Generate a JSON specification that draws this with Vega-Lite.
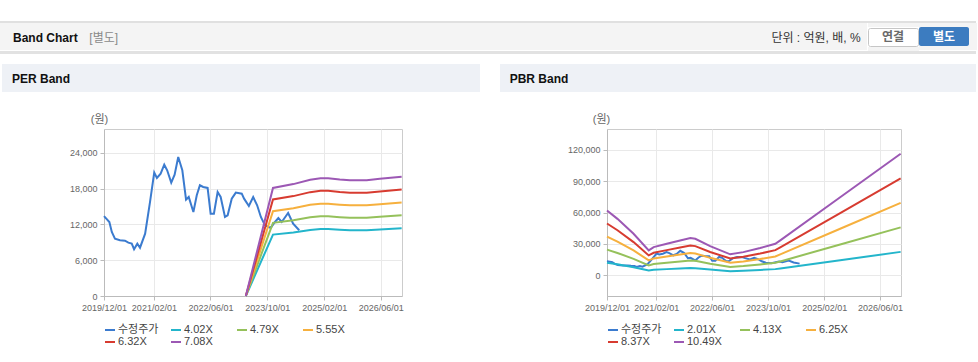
{
 "$schema": "https://vega.github.io/schema/vega-lite/v6.json",
 "padding": {"left": 0, "top": 21, "right": 0, "bottom": 0},
 "background": "#ffffff",
 "spacing": 0,
 "config": {
  "view": {"stroke": null},
  "concat": {"spacing": 0},
  "font": "Liberation Sans, Noto Sans CJK KR",
  "axis": {"labelFont": "Liberation Sans", "labelFontSize": 9, "labelColor": "#666666", "domainColor": "#bbbbbb", "tickColor": "#bbbbbb", "gridColor": "#e9e9e9", "tickSize": 4, "titleFont": "Liberation Sans, Noto Sans CJK KR"},
  "legend": {"labelFont": "Liberation Sans, Noto Sans CJK KR"}
 },
 "datasets": {
  "price": [
   {"date":"2019-12-01","series":"수정주가","value":13400},{"date":"2020-01-16","series":"수정주가","value":12400},{"date":"2020-02-06","series":"수정주가","value":10730},{"date":"2020-03-04","series":"수정주가","value":9620},{"date":"2020-04-16","series":"수정주가","value":9340},{"date":"2020-05-29","series":"수정주가","value":9280},{"date":"2020-06-27","series":"수정주가","value":8950},{"date":"2020-07-26","series":"수정주가","value":8780},{"date":"2020-08-15","series":"수정주가","value":7840},{"date":"2020-09-12","series":"수정주가","value":8780},{"date":"2020-10-05","series":"수정주가","value":8100},{"date":"2020-11-18","series":"수정주가","value":10450},{"date":"2020-12-30","series":"수정주가","value":15770},{"date":"2021-02-04","series":"수정주가","value":20690},{"date":"2021-02-27","series":"수정주가","value":19790},{"date":"2021-03-31","series":"수정주가","value":20510},{"date":"2021-05-01","series":"수정주가","value":22010},{"date":"2021-05-26","series":"수정주가","value":21080},{"date":"2021-06-30","series":"수정주가","value":19000},{"date":"2021-07-29","series":"수정주가","value":20340},{"date":"2021-08-29","series":"수정주가","value":23310},{"date":"2021-10-03","series":"수정주가","value":21080},{"date":"2021-11-04","series":"수정주가","value":16150},{"date":"2021-11-27","series":"수정주가","value":16600},{"date":"2022-01-06","series":"수정주가","value":14080},{"date":"2022-02-04","series":"수정주가","value":16890},{"date":"2022-03-03","series":"수정주가","value":18560},{"date":"2022-03-31","series":"수정주가","value":18280},{"date":"2022-05-08","series":"수정주가","value":18120},{"date":"2022-06-03","series":"수정주가","value":13800},{"date":"2022-07-01","series":"수정주가","value":13800},{"date":"2022-08-02","series":"수정주가","value":17440},{"date":"2022-08-28","series":"수정주가","value":16600},{"date":"2022-10-04","series":"수정주가","value":13250},{"date":"2022-10-27","series":"수정주가","value":13530},{"date":"2022-12-01","series":"수정주가","value":16320},{"date":"2023-01-05","series":"수정주가","value":17330},{"date":"2023-02-25","series":"수정주가","value":17160},{"date":"2023-03-17","series":"수정주가","value":16320},{"date":"2023-04-27","series":"수정주가","value":15100},{"date":"2023-06-03","series":"수정주가","value":16600},{"date":"2023-07-07","series":"수정주가","value":15210},{"date":"2023-08-08","series":"수정주가","value":13250},{"date":"2023-09-12","series":"수정주가","value":11850},{"date":"2023-10-31","series":"수정주가","value":11410},{"date":"2023-12-07","series":"수정주가","value":12410},{"date":"2024-01-05","series":"수정주가","value":13080},{"date":"2024-02-03","series":"수정주가","value":12410},{"date":"2024-03-29","series":"수정주가","value":13920},{"date":"2024-05-11","series":"수정주가","value":12130},{"date":"2024-07-02","series":"수정주가","value":11020}
  ],
  "perBand": [
   {"date":"2023-04-01","series":"4.02X","value":0},{"date":"2023-04-01","series":"4.79X","value":0},{"date":"2023-04-01","series":"5.55X","value":0},{"date":"2023-04-01","series":"6.32X","value":0},{"date":"2023-04-01","series":"7.08X","value":0},
   {"date":"2023-11-20","series":"4.02X","value":10291},{"date":"2023-11-20","series":"4.79X","value":12262},{"date":"2023-11-20","series":"5.55X","value":14208},{"date":"2023-11-20","series":"6.32X","value":16179},{"date":"2023-11-20","series":"7.08X","value":18125},
   {"date":"2024-05-13","series":"4.02X","value":10653},{"date":"2024-05-13","series":"4.79X","value":12694},{"date":"2024-05-13","series":"5.55X","value":14708},{"date":"2024-05-13","series":"6.32X","value":16748},{"date":"2024-05-13","series":"7.08X","value":18762},
   {"date":"2024-10-04","series":"4.02X","value":11075},{"date":"2024-10-04","series":"4.79X","value":13196},{"date":"2024-10-04","series":"5.55X","value":15290},{"date":"2024-10-04","series":"6.32X","value":17412},{"date":"2024-10-04","series":"7.08X","value":19505},
   {"date":"2025-01-01","series":"4.02X","value":11216},{"date":"2025-01-01","series":"4.79X","value":13364},{"date":"2025-01-01","series":"5.55X","value":15485},{"date":"2025-01-01","series":"6.32X","value":17633},{"date":"2025-01-01","series":"7.08X","value":19753},
   {"date":"2025-03-07","series":"4.02X","value":11216},{"date":"2025-03-07","series":"4.79X","value":13364},{"date":"2025-03-07","series":"5.55X","value":15485},{"date":"2025-03-07","series":"6.32X","value":17633},{"date":"2025-03-07","series":"7.08X","value":19753},
   {"date":"2025-06-15","series":"4.02X","value":11095},{"date":"2025-06-15","series":"4.79X","value":13220},{"date":"2025-06-15","series":"5.55X","value":15318},{"date":"2025-06-15","series":"6.32X","value":17443},{"date":"2025-06-15","series":"7.08X","value":19541},
   {"date":"2025-09-10","series":"4.02X","value":11015},{"date":"2025-09-10","series":"4.79X","value":13125},{"date":"2025-09-10","series":"5.55X","value":15207},{"date":"2025-09-10","series":"6.32X","value":17317},{"date":"2025-09-10","series":"7.08X","value":19399},
   {"date":"2026-02-01","series":"4.02X","value":11015},{"date":"2026-02-01","series":"4.79X","value":13125},{"date":"2026-02-01","series":"5.55X","value":15207},{"date":"2026-02-01","series":"6.32X","value":17317},{"date":"2026-02-01","series":"7.08X","value":19399},
   {"date":"2026-05-25","series":"4.02X","value":11156},{"date":"2026-05-25","series":"4.79X","value":13292},{"date":"2026-05-25","series":"5.55X","value":15401},{"date":"2026-05-25","series":"6.32X","value":17538},{"date":"2026-05-25","series":"7.08X","value":19647},
   {"date":"2026-11-28","series":"4.02X","value":11357},{"date":"2026-11-28","series":"4.79X","value":13532},{"date":"2026-11-28","series":"5.55X","value":15679},{"date":"2026-11-28","series":"6.32X","value":17854},{"date":"2026-11-28","series":"7.08X","value":20001}
  ],
  "pbrBand": [
   {"date":"2019-12-01","series":"2.01X","value":11879},{"date":"2019-12-01","series":"4.13X","value":24408},{"date":"2019-12-01","series":"6.25X","value":36938},{"date":"2019-12-01","series":"8.37X","value":49467},{"date":"2019-12-01","series":"10.49X","value":61996},
   {"date":"2020-03-01","series":"2.01X","value":10331},{"date":"2020-03-01","series":"4.13X","value":21228},{"date":"2020-03-01","series":"6.25X","value":32125},{"date":"2020-03-01","series":"8.37X","value":43022},{"date":"2020-03-01","series":"10.49X","value":53919},
   {"date":"2020-07-19","series":"2.01X","value":7598},{"date":"2020-07-19","series":"4.13X","value":15611},{"date":"2020-07-19","series":"6.25X","value":23625},{"date":"2020-07-19","series":"8.37X","value":31639},{"date":"2020-07-19","series":"10.49X","value":39652},
   {"date":"2020-11-28","series":"2.01X","value":4543},{"date":"2020-11-28","series":"4.13X","value":9334},{"date":"2020-11-28","series":"6.25X","value":14125},{"date":"2020-11-28","series":"8.37X","value":18916},{"date":"2020-11-28","series":"10.49X","value":23707},
   {"date":"2021-01-10","series":"2.01X","value":5146},{"date":"2021-01-10","series":"4.13X","value":10573},{"date":"2021-01-10","series":"6.25X","value":16000},{"date":"2021-01-10","series":"8.37X","value":21427},{"date":"2021-01-10","series":"10.49X","value":26854},
   {"date":"2021-05-04","series":"2.01X","value":5749},{"date":"2021-05-04","series":"4.13X","value":11812},{"date":"2021-05-04","series":"6.25X","value":17875},{"date":"2021-05-04","series":"8.37X","value":23938},{"date":"2021-05-04","series":"10.49X","value":30001},
   {"date":"2021-08-28","series":"2.01X","value":6372},{"date":"2021-08-28","series":"4.13X","value":13092},{"date":"2021-08-28","series":"6.25X","value":19813},{"date":"2021-08-28","series":"8.37X","value":26533},{"date":"2021-08-28","series":"10.49X","value":33253},
   {"date":"2021-11-25","series":"2.01X","value":6794},{"date":"2021-11-25","series":"4.13X","value":13959},{"date":"2021-11-25","series":"6.25X","value":21125},{"date":"2021-11-25","series":"8.37X","value":28291},{"date":"2021-11-25","series":"10.49X","value":35456},
   {"date":"2022-01-07","series":"2.01X","value":6673},{"date":"2022-01-07","series":"4.13X","value":13712},{"date":"2022-01-07","series":"6.25X","value":20750},{"date":"2022-01-07","series":"8.37X","value":27788},{"date":"2022-01-07","series":"10.49X","value":34827},
   {"date":"2022-05-16","series":"2.01X","value":5327},{"date":"2022-05-16","series":"4.13X","value":10945},{"date":"2022-05-16","series":"6.25X","value":16563},{"date":"2022-05-16","series":"8.37X","value":22181},{"date":"2022-05-16","series":"10.49X","value":27799},
   {"date":"2022-11-07","series":"2.01X","value":3819},{"date":"2022-11-07","series":"4.13X","value":7847},{"date":"2022-11-07","series":"6.25X","value":11875},{"date":"2022-11-07","series":"8.37X","value":15903},{"date":"2022-11-07","series":"10.49X","value":19931},
   {"date":"2023-03-01","series":"2.01X","value":4221},{"date":"2023-03-01","series":"4.13X","value":8673},{"date":"2023-03-01","series":"6.25X","value":13125},{"date":"2023-03-01","series":"8.37X","value":17577},{"date":"2023-03-01","series":"10.49X","value":22029},
   {"date":"2023-07-25","series":"2.01X","value":4965},{"date":"2023-07-25","series":"4.13X","value":10201},{"date":"2023-07-25","series":"6.25X","value":15438},{"date":"2023-07-25","series":"8.37X","value":20674},{"date":"2023-07-25","series":"10.49X","value":25910},
   {"date":"2023-12-04","series":"2.01X","value":5749},{"date":"2023-12-04","series":"4.13X","value":11812},{"date":"2023-12-04","series":"6.25X","value":17875},{"date":"2023-12-04","series":"8.37X","value":23938},{"date":"2023-12-04","series":"10.49X","value":30001},
   {"date":"2024-01-16","series":"2.01X","value":6382},{"date":"2024-01-16","series":"4.13X","value":13113},{"date":"2024-01-16","series":"6.25X","value":19844},{"date":"2024-01-16","series":"8.37X","value":26575},{"date":"2024-01-16","series":"10.49X","value":33306},
   {"date":"2025-06-20","series":"2.01X","value":14291},{"date":"2025-06-20","series":"4.13X","value":29364},{"date":"2025-06-20","series":"6.25X","value":44438},{"date":"2025-06-20","series":"8.37X","value":59511},{"date":"2025-06-20","series":"10.49X","value":74584},
   {"date":"2026-11-28","series":"2.01X","value":22271},{"date":"2026-11-28","series":"4.13X","value":45760},{"date":"2026-11-28","series":"6.25X","value":69250},{"date":"2026-11-28","series":"8.37X","value":92740},{"date":"2026-11-28","series":"10.49X","value":116229}
  ]
 },
 "vconcat": [
  {"width": 976, "height": 2, "data": {"values": []}, "mark": "rect", "encoding": {}, "view": {"fill": "#e0e0e0"}},
  {"spacing": 0, "hconcat": [
   {"width": 85, "height": 27, "data": {"values": [{"t": "Band Chart"}]}, "mark": {"type": "text", "fontSize": 12, "fontWeight": "bold", "color": "#111111", "dx": 2.8, "dy": 1.5}, "encoding": {"text": {"field": "t", "type": "nominal"}}, "view": {"fill": "#f4f4f4"}},
   {"width": 80, "height": 27, "data": {"values": [{"t": "[별도]"}]}, "mark": {"type": "text", "fontSize": 12, "color": "#8a8a8a", "align": "left", "dx": -35.7, "dy": 1.5}, "encoding": {"text": {"field": "t", "type": "nominal"}}, "view": {"fill": "#f4f4f4"}},
   {"width": 600, "height": 27, "data": {"values": []}, "mark": "rect", "encoding": {}, "view": {"fill": "#f4f4f4"}},
   {"width": 102, "height": 27, "data": {"values": [{"t": "단위 : 억원, 배, %"}]}, "mark": {"type": "text", "fontSize": 12, "color": "#333333", "dy": 1.5}, "encoding": {"text": {"field": "t", "type": "nominal"}}, "view": {"fill": "#f4f4f4"}},
   {"spacing": 0, "vconcat": [
    {"width": 51, "height": 4, "data": {"values": []}, "mark": "rect", "encoding": {}, "view": {"fill": "#f4f4f4"}},
    {"width": 50, "height": 18, "data": {"values": [{"t": "연결"}]}, "mark": {"type": "text", "fontSize": 12, "fontWeight": "bold", "color": "#6a6a6a"}, "encoding": {"text": {"field": "t", "type": "nominal"}}, "view": {"fill": "#ffffff", "stroke": "#c6c6c6", "cornerRadius": 2}},
    {"width": 51, "height": 4, "data": {"values": []}, "mark": "rect", "encoding": {}, "view": {"fill": "#f4f4f4"}}
   ]},
   {"spacing": 0, "vconcat": [
    {"width": 50, "height": 4, "data": {"values": []}, "mark": "rect", "encoding": {}, "view": {"fill": "#f4f4f4"}},
    {"width": 50, "height": 19, "data": {"values": [{"t": "별도"}]}, "mark": {"type": "text", "fontSize": 12, "fontWeight": "bold", "color": "#ffffff"}, "encoding": {"text": {"field": "t", "type": "nominal"}}, "view": {"fill": "#3c7cc0", "cornerRadius": 2}},
    {"width": 50, "height": 4, "data": {"values": []}, "mark": "rect", "encoding": {}, "view": {"fill": "#f4f4f4"}}
   ]},
   {"width": 8, "height": 27, "data": {"values": []}, "mark": "rect", "encoding": {}, "view": {"fill": "#f4f4f4"}}
  ]},
  {"width": 976, "height": 3, "data": {"values": []}, "mark": "rect", "encoding": {}, "view": {"fill": "#e2e2e2"}},
  {"width": 976, "height": 10, "data": {"values": []}, "mark": "rect", "encoding": {}},
  {"spacing": 0, "hconcat": [
   {"width": 2, "height": 28, "data": {"values": []}, "mark": "rect", "encoding": {}},
   {"width": 78, "height": 28, "data": {"values": [{"t": "PER Band"}]}, "mark": {"type": "text", "fontSize": 12, "fontWeight": "bold", "color": "#111111", "dy": 1}, "encoding": {"text": {"field": "t", "type": "nominal"}}, "view": {"fill": "#eef1f6"}},
   {"width": 400, "height": 28, "data": {"values": []}, "mark": "rect", "encoding": {}, "view": {"fill": "#eef1f6"}},
   {"width": 20, "height": 28, "data": {"values": []}, "mark": "rect", "encoding": {}},
   {"width": 78, "height": 28, "data": {"values": [{"t": "PBR Band"}]}, "mark": {"type": "text", "fontSize": 12, "fontWeight": "bold", "color": "#111111", "dy": 1}, "encoding": {"text": {"field": "t", "type": "nominal"}}, "view": {"fill": "#eef1f6"}},
   {"width": 398, "height": 28, "data": {"values": []}, "mark": "rect", "encoding": {}, "view": {"fill": "#eef1f6"}}
  ]},
  {"width": 976, "height": 20, "data": {"values": []}, "mark": "rect", "encoding": {}},
  {"bounds": "flush", "spacing": 0,
   "resolve": {"scale": {"color": "independent"}, "legend": {"color": "independent"}},
   "hconcat": [
   {"width": 104, "height": 167, "data": {"values": []}, "mark": "rect", "encoding": {}},
   {
    "width": 298, "height": 167,
    "view": {"stroke": "#cccccc"},
    "encoding": {
     "x": {"field": "date", "type": "temporal", "scale": {"type": "utc", "domain": [{"year": 2019, "month": 12, "date": 1, "utc": true}, {"year": 2026, "month": 12, "date": 1, "utc": true}]},
      "axis": {"title": null, "values": [{"year": 2019, "month": 12, "date": 1, "utc": true}, {"year": 2021, "month": 2, "date": 1, "utc": true}, {"year": 2022, "month": 6, "date": 1, "utc": true}, {"year": 2023, "month": 10, "date": 1, "utc": true}, {"year": 2025, "month": 2, "date": 1, "utc": true}, {"year": 2026, "month": 6, "date": 1, "utc": true}], "format": "%Y/%m/%d", "grid": true, "labelOverlap": false, "labelFlush": false, "labelPadding": 3}},
     "y": {"field": "value", "type": "quantitative", "scale": {"domain": [0, 28000], "nice": false, "zero": false},
      "axis": {"title": "(원)", "values": [0, 6000, 12000, 18000, 24000], "format": ",d", "grid": true, "titleAngle": 0, "titleX": -5, "titleY": -10, "titleAlign": "center", "titleBaseline": "middle", "titleFontWeight": "normal", "titleFontSize": 11, "titleColor": "#666666", "labelPadding": 3}},
     "color": {"field": "series", "type": "nominal", "scale": {"domain": ["수정주가", "4.02X", "4.79X", "5.55X", "6.32X", "7.08X"], "range": ["#3b7bcf", "#23b5cb", "#95c15b", "#f6b03e", "#d73b30", "#9c58b4"]},
      "legend": {"title": null, "orient": "bottom", "direction": "horizontal", "columns": 4, "gridAlign": "all", "symbolType": "stroke", "symbolSize": 100, "symbolStrokeWidth": 2, "labelFontSize": 11, "labelColor": "#444444", "columnPadding": 8, "rowPadding": 1, "labelOffset": 2, "offset": 12, "padding": 0}}
    },
    "layer": [
     {"data": {"name": "price"}, "mark": {"type": "line", "strokeWidth": 2}, "encoding": {}},
     {"data": {"name": "perBand"}, "mark": {"type": "line", "strokeWidth": 2}, "encoding": {}}
    ]
   },
   {"width": 205, "height": 167, "data": {"values": []}, "mark": "rect", "encoding": {}},
   {
    "width": 294, "height": 167,
    "view": {"stroke": "#cccccc"},
    "encoding": {
     "x": {"field": "date", "type": "temporal", "scale": {"type": "utc", "domain": [{"year": 2019, "month": 12, "date": 1, "utc": true}, {"year": 2026, "month": 12, "date": 1, "utc": true}]},
      "axis": {"title": null, "values": [{"year": 2019, "month": 12, "date": 1, "utc": true}, {"year": 2021, "month": 2, "date": 1, "utc": true}, {"year": 2022, "month": 6, "date": 1, "utc": true}, {"year": 2023, "month": 10, "date": 1, "utc": true}, {"year": 2025, "month": 2, "date": 1, "utc": true}, {"year": 2026, "month": 6, "date": 1, "utc": true}], "format": "%Y/%m/%d", "grid": true, "labelOverlap": false, "labelFlush": false, "labelPadding": 3}},
     "y": {"field": "value", "type": "quantitative", "scale": {"domain": [-20000, 140000], "nice": false, "zero": false},
      "axis": {"title": "(원)", "values": [0, 30000, 60000, 90000, 120000], "format": ",d", "grid": true, "titleAngle": 0, "titleX": -6, "titleY": -10, "titleAlign": "center", "titleBaseline": "middle", "titleFontWeight": "normal", "titleFontSize": 11, "titleColor": "#666666", "labelPadding": 3}},
     "color": {"field": "series", "type": "nominal", "scale": {"domain": ["수정주가", "2.01X", "4.13X", "6.25X", "8.37X", "10.49X"], "range": ["#3b7bcf", "#23b5cb", "#95c15b", "#f6b03e", "#d73b30", "#9c58b4"]},
      "legend": {"title": null, "orient": "bottom", "direction": "horizontal", "columns": 4, "gridAlign": "all", "symbolType": "stroke", "symbolSize": 100, "symbolStrokeWidth": 2, "labelFontSize": 11, "labelColor": "#444444", "columnPadding": 8, "rowPadding": 1, "labelOffset": 2, "offset": 12, "padding": 0}}
    },
    "layer": [
     {"data": {"name": "price"}, "mark": {"type": "line", "strokeWidth": 2}, "encoding": {}},
     {"data": {"name": "pbrBand"}, "mark": {"type": "line", "strokeWidth": 2}, "encoding": {}}
    ]
   }
  ]}
 ]
}
